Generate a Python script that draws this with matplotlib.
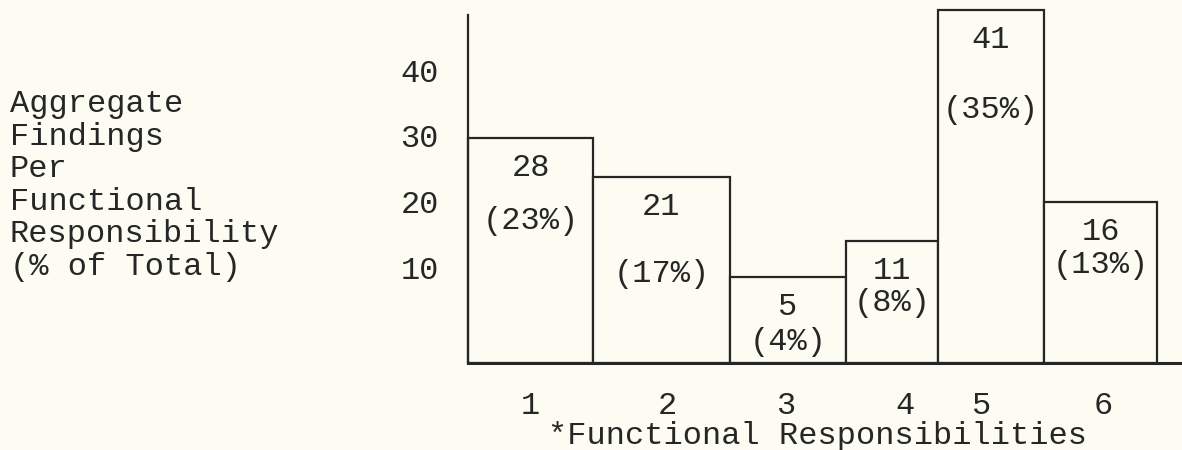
import numpy as np
import matplotlib.pyplot as plt

# data
categories = ['1', '2', '3', '4', '5', '6']
findings = [28, 21, 5, 11, 41, 16]
percent = [23, 17, 4, 8, 35, 13]
# bar tops as drawn against the typed 10..40 scale (not to scale with the counts)
drawn_top = [29.6, 23.7, 8.5, 14.0, 49.1, 19.9]
# bar boundaries along the x axis (bars are of unequal width in the original)
bar_edges = [0, 125, 262, 378, 470, 576, 689]
tick_pos = [62, 199, 318, 437, 514, 635]
y_ticks = [10, 20, 30, 40]
side_label = ['Aggregate', 'Findings', 'Per', 'Functional',
              'Responsibility', '(% of Total)']

floor = -4.6
ink = '#262626'
paper = '#fcfcf2'
font = 'Liberation Mono'
fs = 23

fig = plt.figure(figsize=(11.82, 4.5), dpi=100, facecolor=paper)
ax = fig.add_axes([468/1182, 87/450, 714/1182, 348/450])
ax.set_facecolor(paper)

edges = np.array(bar_edges)
widths = np.diff(edges)
heights = np.array(drawn_top) - floor
ax.bar(edges[:-1], heights, width=widths, bottom=floor, align='edge',
       facecolor=paper, edgecolor=ink, linewidth=1.6, clip_on=False, zorder=2)

centers = edges[:-1] + widths / 2
pct_gap = [53, 67, 35, 32, 70, 33]
for c, top, n, p, g in zip(centers, drawn_top, findings, percent, pct_gap):
    ax.annotate(str(n), (c, top), xytext=(0, -30), textcoords='offset pixels',
                ha='center', va='center', fontsize=fs, family=font, color=ink,
                annotation_clip=False, zorder=3)
    ax.annotate('(%d%%)' % p, (c, top), xytext=(0, -30 - g), textcoords='offset pixels',
                ha='center', va='center', fontsize=fs, family=font, color=ink,
                annotation_clip=False, zorder=3)

ax.set_xlim(0, 714)
ax.set_ylim(floor, 48.4)
for s in ['top', 'right']:
    ax.spines[s].set_visible(False)
ax.spines['left'].set_linewidth(1.6)
ax.spines['bottom'].set_linewidth(2.2)
ax.spines['left'].set_color(ink)
ax.spines['bottom'].set_color(ink)

ax.set_yticks(y_ticks)
ax.set_yticklabels([str(t) for t in y_ticks], family=font, fontsize=fs, color=ink)
ax.set_xticks(tick_pos)
ax.set_xticklabels(categories, family=font, fontsize=fs, color=ink)
ax.tick_params(axis='y', length=0, pad=21)
ax.tick_params(axis='x', length=0, pad=20)

fig.text(817/1182, 1 - 436/450, '*Functional Responsibilities', ha='center', va='center',
         fontsize=fs, family=font, color=ink)
for i, line in enumerate(side_label):
    fig.text(10/1182, 1 - (104 + i*32.6)/450, line, ha='left', va='center',
             fontsize=fs, family=font, color=ink)

fig.savefig('out.png', dpi=100, facecolor=paper)
